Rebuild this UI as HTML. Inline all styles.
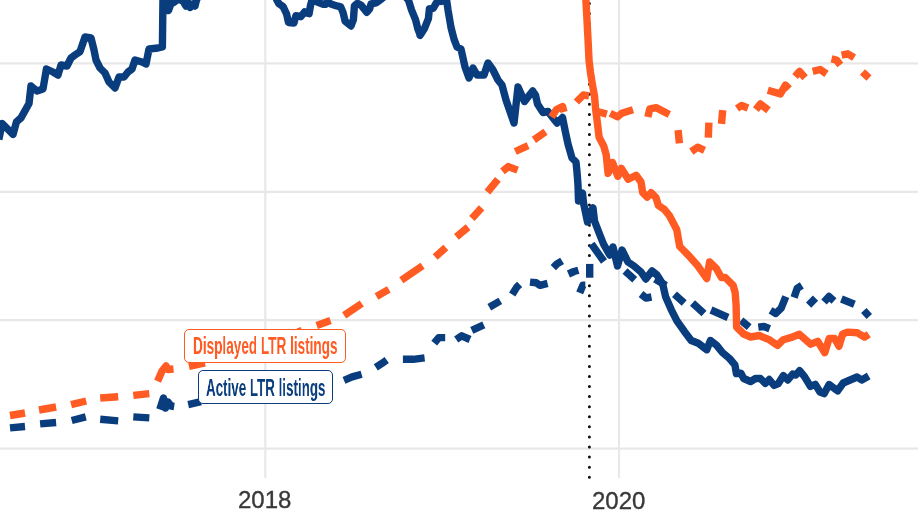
<!DOCTYPE html>
<html><head><meta charset="utf-8"><style>
html,body{margin:0;padding:0;background:#fff;}
body{width:918px;height:517px;overflow:hidden;position:relative;font-family:"Liberation Sans",sans-serif;}
svg{position:absolute;left:0;top:0;}
.lab{position:absolute;background:#fff;border:1.6px solid;border-radius:5px;box-sizing:border-box;}
.lab span{position:absolute;left:0;top:0;white-space:nowrap;transform-origin:0 0;will-change:transform;}
.ax{position:absolute;color:#383838;font-size:24px;line-height:1;-webkit-text-stroke:0.35px #383838;will-change:transform;}
</style></head><body>
<svg width="918" height="517" viewBox="0 0 918 517">
<line x1="0" y1="63.4" x2="918" y2="63.4" stroke="#e8e8e8" stroke-width="2.2"/>
<line x1="0" y1="191.8" x2="918" y2="191.8" stroke="#e8e8e8" stroke-width="2.2"/>
<line x1="0" y1="320.2" x2="918" y2="320.2" stroke="#e8e8e8" stroke-width="2.2"/>
<line x1="0" y1="448.6" x2="918" y2="448.6" stroke="#e8e8e8" stroke-width="2.2"/>
<line x1="265.3" y1="0" x2="265.3" y2="478" stroke="#e8e8e8" stroke-width="2.2"/>
<line x1="619" y1="0" x2="619" y2="478" stroke="#e8e8e8" stroke-width="2.2"/>
<line x1="589.4" y1="3.5" x2="589.4" y2="480" stroke="#111" stroke-width="3" stroke-dasharray="0 10.08" stroke-linecap="round"/>
<path d="M-1.2,139.5 L2.2,123.5 L13,134.4 L16.5,121.8 L21,117.9 L29,103.5 L31,86 L37,91 L43,89 L46.4,69 L53,72 L58,75 L61,65 L67,66 L71,58 L75,55 L80,51.6 L85,37 L91,38 L94,50 L96,60 L100,68 L105,73 L109,82 L115,88 L119,77 L124,77 L128,72 L132,69 L135,60 L142,62 L146,64 L149,49 L158,48 L162.4,47 L163,-5 L166,-3 L168.5,10.5 L171,3.5 L174.5,2 L178,-1 L183,1 L186,6 L188,2.5 L190,7.5 L193,4 L195,6 L197,-2 L201,-4 L230,-15 L274,-8 L276.8,0 L279,3.8 L283.1,6.6 L286.6,14 L288.5,22.5 L293.9,23 L295.9,15.7 L300.8,16.7 L304.7,11.8 L309.1,13.7 L310.6,4.9 L312,0 L317.5,2 L323.3,4.4 L325.5,4.4 L327.5,1.5 L330.9,3.9 L336.8,5.9 L340.7,6.9 L343.1,12.7 L345.1,21.1 L351,26 L353.4,19.6 L354.4,5.9 L357.4,3.4 L361.3,5.4 L366.7,12.3 L369.6,8.8 L371.1,3.9 L376,2.9 L379.4,0.5 L383.8,-3 L401,-8 L408.4,0 L411.5,9.8 L415.5,19.6 L418,29.4 L420.3,35 L420.1,35.3 L424.5,28.4 L428.4,18.6 L429.4,8.8 L433.3,8.3 L436.3,2.9 L439.2,1 L441.2,1.5 L446.6,0 L448,9.8 L451,27.5 L454,39.2 L457,47 L461,49 L465,67 L469,78 L473,68 L477,75 L484,75 L488,63 L493,70 L498,80 L502,85 L506,100 L514,123 L518,87 L524.5,101.5 L532.7,91 L535.5,95 L537.5,104 L543,112.5 L548,111.5 L553,118 L557,123 L562.5,117.5 L565,130 L568,144 L572,158 L576,162 L577,172 L578,185 L578.5,201 L582.5,193 L583.5,203 L587.5,222 L590,213 L593,208 L594.5,221 L599.5,234 L603.5,244 L609.7,255 L613,247 L617.5,266 L622,250 L628,262 L634,266 L641,272 L645.8,279 L652,271 L657,275 L662.7,284 L665.6,296.8 L671.2,309.6 L676.9,320.9 L684.2,331.2 L691.2,340.5 L698.3,343.3 L706.8,349.7 L710.4,340.5 L716.7,345.4 L722.4,352.5 L729.5,358.5 L734.9,364.8 L736.4,373.6 L740.8,373.1 L743.7,378.5 L750.6,381.5 L755.5,378.5 L760.4,378.5 L765.3,383.4 L769.2,379.5 L774.1,385.4 L778,383.9 L783.4,375.6 L787.8,380 L792.7,374.1 L795.7,375.1 L799.6,370.7 L804.5,376.6 L810.4,386.4 L815.3,384.4 L820,392 L824.1,393.7 L829.1,384.5 L837.6,390.9 L843.2,383 L847.8,381 L857.1,377 L861.7,380 L868.7,376" fill="none" stroke="#0a3d7d" stroke-width="7.4" stroke-linejoin="round" stroke-linecap="butt"/>
<path d="M10,427.9 L25,426.5" fill="none" stroke="#0a3d7d" stroke-width="7.4" stroke-linejoin="round"/>
<path d="M40.1,423.9 L56.1,422.5" fill="none" stroke="#0a3d7d" stroke-width="7.4" stroke-linejoin="round"/>
<path d="M71.7,420.5 L85.8,416.9" fill="none" stroke="#0a3d7d" stroke-width="7.4" stroke-linejoin="round"/>
<path d="M100.2,419.3 L118.2,420.9" fill="none" stroke="#0a3d7d" stroke-width="7.4" stroke-linejoin="round"/>
<path d="M133.3,416.9 L149.3,417.9" fill="none" stroke="#0a3d7d" stroke-width="7.4" stroke-linejoin="round"/>
<path d="M159.8,409.5 L163.5,398 L165.5,408 L168,402 L171,406 L174.2,406.5" fill="none" stroke="#0a3d7d" stroke-width="7.4" stroke-linejoin="round"/>
<path d="M188.2,404.6 L201,401.7" fill="none" stroke="#0a3d7d" stroke-width="7.4" stroke-linejoin="round"/>
<path d="M344,380.3 L352.1,376.9 L361.6,374.2" fill="none" stroke="#0a3d7d" stroke-width="7.4" stroke-linejoin="round"/>
<path d="M375.8,367.4 L381.9,363.4 L386.7,360" fill="none" stroke="#0a3d7d" stroke-width="7.4" stroke-linejoin="round"/>
<path d="M402.9,359.3 L413.1,359.3 L424.6,357.9" fill="none" stroke="#0a3d7d" stroke-width="7.4" stroke-linejoin="round"/>
<path d="M434.2,343.2 L438.8,337.6 L445.2,337.6" fill="none" stroke="#0a3d7d" stroke-width="7.4" stroke-linejoin="round"/>
<path d="M456.2,339.5 L461.7,335.8 L470,339.5" fill="none" stroke="#0a3d7d" stroke-width="7.4" stroke-linejoin="round"/>
<path d="M471.8,330.3 L483.8,324.8" fill="none" stroke="#0a3d7d" stroke-width="7.4" stroke-linejoin="round"/>
<path d="M489.3,307.3 L500.3,300.9" fill="none" stroke="#0a3d7d" stroke-width="7.4" stroke-linejoin="round"/>
<path d="M512.2,294.5 L516.8,287.1 L519.6,284.4" fill="none" stroke="#0a3d7d" stroke-width="7.4" stroke-linejoin="round"/>
<path d="M530,282.1 L536.3,282.8 L540.1,285.3 L547.6,283.4" fill="none" stroke="#0a3d7d" stroke-width="7.4" stroke-linejoin="round"/>
<path d="M553.3,267.7 L557,263.9 L562.1,260.8" fill="none" stroke="#0a3d7d" stroke-width="7.4" stroke-linejoin="round"/>
<path d="M568.4,274 L574,271.5 L578.4,270.2" fill="none" stroke="#0a3d7d" stroke-width="7.4" stroke-linejoin="round"/>
<path d="M579.7,292.8 L582.8,285.3 L585.3,285.3" fill="none" stroke="#0a3d7d" stroke-width="7.4" stroke-linejoin="round"/>
<path d="M589.7,263.9 L589.7,277.7" fill="none" stroke="#0a3d7d" stroke-width="7.4" stroke-linejoin="round"/>
<path d="M591.5,244 L604,261.5" fill="none" stroke="#0a3d7d" stroke-width="7.4" stroke-linejoin="round"/>
<path d="M625,271 L634.7,279.7" fill="none" stroke="#0a3d7d" stroke-width="7.4" stroke-linejoin="round"/>
<path d="M641,294 L646,298 L651.5,297" fill="none" stroke="#0a3d7d" stroke-width="7.4" stroke-linejoin="round"/>
<path d="M655,279 L666,285.5" fill="none" stroke="#0a3d7d" stroke-width="7.4" stroke-linejoin="round"/>
<path d="M674.5,294.2 L684.2,302.9" fill="none" stroke="#0a3d7d" stroke-width="7.4" stroke-linejoin="round"/>
<path d="M692.5,303 L704,313.5" fill="none" stroke="#0a3d7d" stroke-width="7.4" stroke-linejoin="round"/>
<path d="M711,310 L728,317.5" fill="none" stroke="#0a3d7d" stroke-width="7.4" stroke-linejoin="round"/>
<path d="M741,320.3 L749.2,327.2" fill="none" stroke="#0a3d7d" stroke-width="7.4" stroke-linejoin="round"/>
<path d="M758.3,327.2 L764,326.5 L769.7,328.7" fill="none" stroke="#0a3d7d" stroke-width="7.4" stroke-linejoin="round"/>
<path d="M770.5,310.4 L775.8,313.5 L781.2,308.1 L785.8,296.7" fill="none" stroke="#0a3d7d" stroke-width="7.4" stroke-linejoin="round"/>
<path d="M794.1,297.5 L797.2,288.3 L801.8,285.3" fill="none" stroke="#0a3d7d" stroke-width="7.4" stroke-linejoin="round"/>
<path d="M808.6,305.1 L815.5,298.2" fill="none" stroke="#0a3d7d" stroke-width="7.4" stroke-linejoin="round"/>
<path d="M824,302 L829,296.5 L834,301" fill="none" stroke="#0a3d7d" stroke-width="7.4" stroke-linejoin="round"/>
<path d="M841.4,299 L854.4,304.3" fill="none" stroke="#0a3d7d" stroke-width="7.4" stroke-linejoin="round"/>
<path d="M863.8,310.5 L869.3,316.5" fill="none" stroke="#0a3d7d" stroke-width="7.4" stroke-linejoin="round"/>
<path d="M585.6,-5 L587,20 L588.3,45 L589,60 L590.4,72 L592.4,84.5 L594.5,96 L595.7,109.8 L597.6,124.5 L599.1,137.3 L603.7,145.9 L606.2,154.7 L608.1,173.3 L612.5,162.5 L617.9,176.3 L621.4,168.4 L628.2,179.2 L636.1,175.3 L641,182 L642.7,192.7 L647.2,197.2 L651.1,192.7 L656,197.6 L658.4,205.5 L664.3,209.4 L669.2,215.3 L676.8,229.8 L679.7,246.5 L687.5,254.3 L697.8,265.8 L706.7,278.5 L709.6,261.9 L716.5,268.7 L721.4,277.5 L725.3,277.5 L733.1,285.4 L735.1,292.3 L736.1,305 L736.6,327 L743.7,334 L750.7,337 L759.2,335.5 L769.2,339.7 L777.6,345.4 L783.3,339.7 L792.2,337.1 L799.3,334.2 L810.7,344.2 L817.7,341.3 L824.8,352.7 L829.1,338.5 L834.7,338.5 L839,346.3 L842.5,334.2 L847.5,332.1 L857.4,332.8 L864.5,337.1 L868.7,334.2" fill="none" stroke="#ff5b23" stroke-width="7.4" stroke-linejoin="round" stroke-linecap="butt"/>
<path d="M10,415.5 L25,413" fill="none" stroke="#ff5b23" stroke-width="7.4" stroke-linejoin="round"/>
<path d="M39,410 L56.1,407" fill="none" stroke="#ff5b23" stroke-width="7.4" stroke-linejoin="round"/>
<path d="M71.1,404.7 L86.2,401" fill="none" stroke="#ff5b23" stroke-width="7.4" stroke-linejoin="round"/>
<path d="M100.2,398 L118.2,396.7" fill="none" stroke="#ff5b23" stroke-width="7.4" stroke-linejoin="round"/>
<path d="M133.3,395.4 L149.3,393.6" fill="none" stroke="#ff5b23" stroke-width="7.4" stroke-linejoin="round"/>
<path d="M157.6,381.2 L162,371 L166,366 L168,369.5 L173.5,369" fill="none" stroke="#ff5b23" stroke-width="7.4" stroke-linejoin="round"/>
<path d="M189,366.3 L205,363" fill="none" stroke="#ff5b23" stroke-width="7.4" stroke-linejoin="round"/>
<path d="M236,353 L253,347" fill="none" stroke="#ff5b23" stroke-width="7.4" stroke-linejoin="round"/>
<path d="M268,342 L285,337" fill="none" stroke="#ff5b23" stroke-width="7.4" stroke-linejoin="round"/>
<path d="M298,332 L302,330.5" fill="none" stroke="#ff5b23" stroke-width="7.4" stroke-linejoin="round"/>
<path d="M316.7,325.4 L330.5,320.6" fill="none" stroke="#ff5b23" stroke-width="7.4" stroke-linejoin="round"/>
<path d="M344.1,315.3 L361.8,303.5" fill="none" stroke="#ff5b23" stroke-width="7.4" stroke-linejoin="round"/>
<path d="M376.5,296.5 L388.8,289.4" fill="none" stroke="#ff5b23" stroke-width="7.4" stroke-linejoin="round"/>
<path d="M401.3,280.3 L422.6,265.8" fill="none" stroke="#ff5b23" stroke-width="7.4" stroke-linejoin="round"/>
<path d="M435.2,257.1 L445.8,247.4" fill="none" stroke="#ff5b23" stroke-width="7.4" stroke-linejoin="round"/>
<path d="M456.4,236.8 L468.1,227.1" fill="none" stroke="#ff5b23" stroke-width="7.4" stroke-linejoin="round"/>
<path d="M471.9,218.4 L481.6,207.7" fill="none" stroke="#ff5b23" stroke-width="7.4" stroke-linejoin="round"/>
<path d="M487.4,192.2 L497.9,179.4" fill="none" stroke="#ff5b23" stroke-width="7.4" stroke-linejoin="round"/>
<path d="M502.5,171.3 L508.3,166.6 L517.6,170.1" fill="none" stroke="#ff5b23" stroke-width="7.4" stroke-linejoin="round"/>
<path d="M515.3,151.5 L528.1,145.7" fill="none" stroke="#ff5b23" stroke-width="7.4" stroke-linejoin="round"/>
<path d="M533.9,139.9 L545.5,131.8" fill="none" stroke="#ff5b23" stroke-width="7.4" stroke-linejoin="round"/>
<path d="M551.5,117 L556.5,109.5 L562.5,106.5 L564,112" fill="none" stroke="#ff5b23" stroke-width="7.4" stroke-linejoin="round"/>
<path d="M576.4,102 L583.3,95 L589,95.8" fill="none" stroke="#ff5b23" stroke-width="7.4" stroke-linejoin="round"/>
<path d="M597.3,111.5 L606.9,114.1" fill="none" stroke="#ff5b23" stroke-width="7.4" stroke-linejoin="round"/>
<path d="M610.3,113.3 L617.3,116.8 L621.7,113.3 L633,109.8" fill="none" stroke="#ff5b23" stroke-width="7.4" stroke-linejoin="round"/>
<path d="M647.9,117 L649.8,108.8 L656.1,107.6 L669.3,114.5" fill="none" stroke="#ff5b23" stroke-width="7.4" stroke-linejoin="round"/>
<path d="M678.1,130.2 L679.4,143.4" fill="none" stroke="#ff5b23" stroke-width="7.4" stroke-linejoin="round"/>
<path d="M691.3,151.6 L697.6,147.2 L704.5,150.3" fill="none" stroke="#ff5b23" stroke-width="7.4" stroke-linejoin="round"/>
<path d="M708.9,122.7 L708.3,137.7" fill="none" stroke="#ff5b23" stroke-width="7.4" stroke-linejoin="round"/>
<path d="M722.7,110.1 L721.5,123.9" fill="none" stroke="#ff5b23" stroke-width="7.4" stroke-linejoin="round"/>
<path d="M737,108.5 L741.5,105.5 L748,108" fill="none" stroke="#ff5b23" stroke-width="7.4" stroke-linejoin="round"/>
<path d="M755.9,109.6 L760.3,104 L768.5,110.3" fill="none" stroke="#ff5b23" stroke-width="7.4" stroke-linejoin="round"/>
<path d="M767.8,90.2 L780.4,93.9 L785.4,85.1 L789.2,88.9" fill="none" stroke="#ff5b23" stroke-width="7.4" stroke-linejoin="round"/>
<path d="M795.1,76.5 L799.5,71.4 L805.1,77.7" fill="none" stroke="#ff5b23" stroke-width="7.4" stroke-linejoin="round"/>
<path d="M812.7,71.4 L820.2,69.5 L826.5,73.9" fill="none" stroke="#ff5b23" stroke-width="7.4" stroke-linejoin="round"/>
<path d="M831.5,58.9 L836.5,60.1 L840.3,65.1" fill="none" stroke="#ff5b23" stroke-width="7.4" stroke-linejoin="round"/>
<path d="M841.6,55.1 L847.8,53.8 L854.1,57.6" fill="none" stroke="#ff5b23" stroke-width="7.4" stroke-linejoin="round"/>
<path d="M862.5,72 L869,78" fill="none" stroke="#ff5b23" stroke-width="7.4" stroke-linejoin="round"/>
</svg>
<div class="lab" style="left:184.3px;top:329.4px;width:161.6px;height:33.4px;border-color:#ff5b23;color:#ff5b23"><span id="t1" style="font-size:24.5px;left:7.6px;top:1.6px;font-weight:bold;transform:scaleX(0.554)">Displayed LTR listings</span></div>
<div class="lab" style="left:198px;top:370.2px;width:134.6px;height:34px;border-color:#0a3d7d;color:#0a3d7d"><span id="t2" style="font-size:24.5px;left:6.6px;top:2.8px;font-weight:bold;transform:scaleX(0.546)">Active LTR listings</span></div>
<div class="ax" style="left:238px;top:488.4px">2018</div>
<div class="ax" style="left:592px;top:488.7px">2020</div>
</body></html>
